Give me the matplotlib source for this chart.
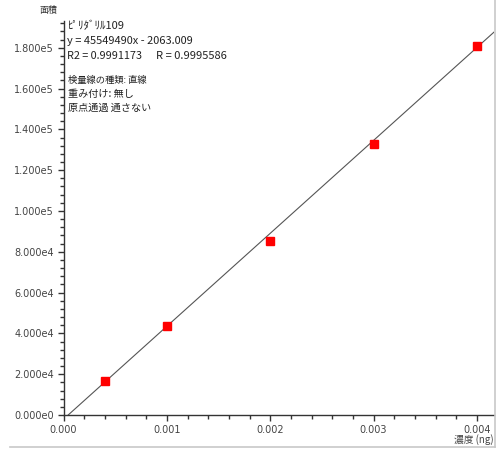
import matplotlib
matplotlib.use("Agg")
import matplotlib.pyplot as plt
from matplotlib.ticker import MultipleLocator, FuncFormatter
from matplotlib.lines import Line2D
import numpy as np

plt.rcParams['font.family'] = ['Noto Sans CJK JP', 'DejaVu Sans']

# data
conc = [0.0004, 0.001, 0.002, 0.003, 0.004]
area = [16900, 43800, 85500, 133000, 181000]
slope = 45549490
intercept = -2063.009
compound = "ﾋﾟﾘﾀﾞﾘﾙ109"
equation = "y = 45549490x - 2063.009"
r2_text = "R2 = 0.9991173"
r_text = "R = 0.9995586"
info_lines = ["検量線の種類: 直線", "重み付け: 無し", "原点通過 通さない"]
x_label = "濃度 (ng)"
y_label = "面積"

fig = plt.figure(figsize=(4.97, 4.5), dpi=100)
W, H = 497, 450
ax = fig.add_axes([63.5 / W, (H - 415) / H, (494 - 63.5) / W, (415 - 21) / H])

xmax = 0.004165
ymax = 193100
ax.set_xlim(0, xmax)
ax.set_ylim(0, ymax)

x0 = -intercept / slope
xs = np.array([x0, xmax])
ax.plot(xs, slope * xs + intercept, color='#555555', lw=0.8, zorder=2)
ax.plot(conc, area, 's', color='#ff0000', markersize=5.2, zorder=3)

for s in ['top', 'right']:
    ax.spines[s].set_visible(False)
for s in ['left', 'bottom']:
    ax.spines[s].set_color('#333333')
    ax.spines[s].set_linewidth(1.0)

ax.xaxis.set_major_locator(MultipleLocator(0.001))
ax.xaxis.set_minor_locator(MultipleLocator(0.0002))
ax.yaxis.set_major_locator(MultipleLocator(20000))
ax.yaxis.set_minor_locator(MultipleLocator(4000))

def yfmt(v, pos):
    if v == 0:
        return "0.000e0"
    e = int(np.floor(np.log10(abs(v))))
    m = v / 10 ** e
    return f"{m:.3f}e{e}"

ax.yaxis.set_major_formatter(FuncFormatter(yfmt))
ax.xaxis.set_major_formatter(FuncFormatter(lambda v, p: f"{v:.3f}"))

ax.tick_params(axis='both', which='major', length=4, width=1, color='#333333',
               labelsize=7, labelcolor='#444444', pad=3)
ax.tick_params(axis='both', which='minor', length=3, width=1, color='#333333')
for lab in ax.get_xticklabels() + ax.get_yticklabels():
    lab.set_family(['DejaVu Sans'])

fig.text(48 / W, 1 - 10 / H, y_label, fontsize=6.5, color='#333333', ha='center', va='center')
fig.text(494 / W, 1 - 440 / H, x_label, fontsize=7, color='#444444', ha='right', va='center')

renderer = fig.canvas.get_renderer()

def fitted_text(x_px, y_px, s, target_w):
    t = fig.text(x_px / W, 1 - y_px / H, s, fontsize=8, color='#222222', ha='left', va='center')
    w = t.get_window_extent(renderer).width
    t.set_fontsize(8 * target_w / w)
    return t

fitted_text(67, 41, equation, 127)
fitted_text(67, 26, compound, 57)
fitted_text(67, 56, r2_text, 75)
fitted_text(156, 56, r_text, 71)
fitted_text(68, 80, info_lines[0], 79)
fitted_text(68, 94, info_lines[1], 66)
fitted_text(68, 108, info_lines[2], 83)

fig.add_artist(Line2D([10 / W, 495 / W], [1 - 447 / H, 1 - 447 / H], color='#c8c8c8', lw=1.2))
fig.add_artist(Line2D([495 / W, 495 / W], [1 - 447 / H, 1.0], color='#c8c8c8', lw=1.2))

fig.savefig("out.png", dpi=100)
